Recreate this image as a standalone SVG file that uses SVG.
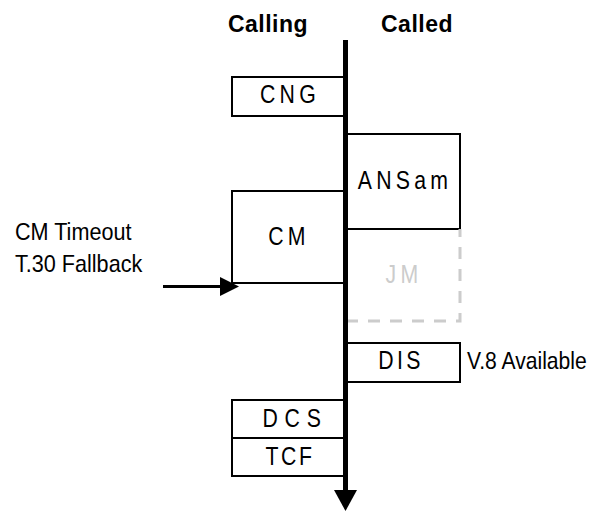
<svg xmlns="http://www.w3.org/2000/svg" width="608" height="512" viewBox="0 0 608 512">
<style>
.box{fill:#fff;stroke:#000;stroke-width:2}
.lbl{font-family:"Liberation Sans",Arial,sans-serif;font-size:25px;letter-spacing:5px;text-anchor:middle;fill:#000}
.hdr{font-family:"Liberation Sans",Arial,sans-serif;font-size:23px;font-weight:bold;text-anchor:middle;fill:#000;letter-spacing:0.5px}
.note{font-family:"Liberation Sans",Arial,sans-serif;font-size:24px;fill:#000}
</style>
<rect width="608" height="512" fill="#fff"/>
<g id="headers">
<text class="hdr" x="268" y="32">Calling</text>
<text class="hdr" x="417" y="32">Called</text>
</g>
<g id="CNG">
<rect class="box" x="232" y="77" width="113" height="39"/>
<text class="lbl" transform="translate(290,103) scale(0.85,1)">CNG</text>
</g>
<g id="ANSam">
<rect class="box" x="346" y="134" width="114" height="95"/>
<text class="lbl" transform="translate(405,189) scale(0.85,1)">ANSam</text>
</g>
<g id="JM">
<path d="M346 321 H460 V229" fill="none" stroke="#ccc" stroke-width="3" stroke-dasharray="12 10"/>
<text class="lbl" transform="translate(404,283) scale(0.85,1)" style="fill:#ccc">JM</text>
</g>
<g id="CM">
<rect class="box" x="232" y="191" width="113" height="92"/>
<text class="lbl" transform="translate(289,245) scale(0.85,1)">CM</text>
</g>
<g id="DIS">
<rect class="box" x="346" y="343" width="114" height="39"/>
<text class="lbl" transform="translate(401,369) scale(0.85,1)" style="letter-spacing:4px">DIS</text>
<text class="note" transform="translate(467,369) scale(0.88,1)">V.8 Available</text>
</g>
<g id="DCS">
<rect class="box" x="232" y="400" width="113" height="38"/>
<text class="lbl" transform="translate(295,427) scale(0.85,1)" style="letter-spacing:8px">DCS</text>
</g>
<g id="TCF">
<rect class="box" x="232" y="438" width="113" height="38"/>
<text class="lbl" transform="translate(290,465) scale(0.85,1)" style="letter-spacing:3px">TCF</text>
</g>
<g id="fallback">
<text class="note" transform="translate(15,240) scale(0.9,1)">CM Timeout</text>
<text class="note" transform="translate(15,272) scale(0.9,1)">T.30 Fallback</text>
</g>
<g id="connectors">
<line x1="345.5" y1="40" x2="345.5" y2="492" stroke="#000" stroke-width="5"/>
<polygon points="334,490 357,490 345.5,511" fill="#000"/>
<line x1="163" y1="286.5" x2="224" y2="286.5" stroke="#000" stroke-width="3"/>
<polygon points="220,277 239,286.5 220,296" fill="#000"/>
</g>
</svg>
